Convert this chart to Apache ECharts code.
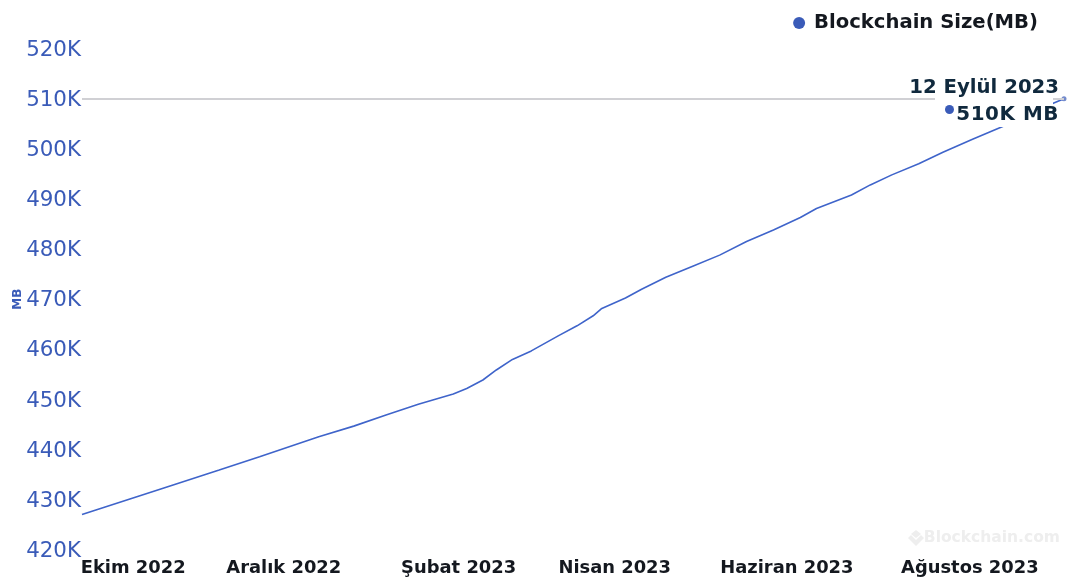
<!DOCTYPE html>
<html>
<head>
<meta charset="utf-8">
<style>html,body{margin:0;padding:0;background:#fff}#chart{width:1068px;height:581px}</style>
<script src="https://cdn.jsdelivr.net/npm/echarts@6/dist/echarts.min.js"></script>
</head>
<body>
<div id="chart"></div>
<script>
// Blockchain size over one year, in megabytes
const dates = ['2022-09-12','2022-10-11','2022-11-02','2022-11-17','2022-12-09','2022-12-22','2023-01-03','2023-01-15','2023-01-28','2023-02-02','2023-02-08','2023-02-13','2023-02-19','2023-02-26','2023-03-08','2023-03-15','2023-03-21','2023-03-24','2023-04-02','2023-04-08','2023-04-17','2023-04-27','2023-05-07','2023-05-17','2023-05-27','2023-06-06','2023-06-12','2023-06-25','2023-07-02','2023-07-10','2023-07-20','2023-07-29','2023-08-09','2023-08-20','2023-09-08','2023-09-12'];
const sizeMB = [427100,432100,435950,438600,442600,444700,446900,449050,451100,452200,453900,455900,458000,459700,462700,464700,466700,468100,470250,472000,474400,476600,478800,481500,483800,486300,488100,490800,492800,494800,497000,499300,501900,504400,509100,510000];
const tickDates = ['2022-10-01','2022-11-26','2023-01-30','2023-03-29','2023-06-01','2023-08-08'];
const tickLabels = ['Ekim 2022','Aralık 2022','Şubat 2023','Nisan 2023','Haziran 2023','Ağustos 2023'];
const seriesName = 'Blockchain Size(MB)';
const tipDate = '12 Eylül 2023';
const tipValue = '510K MB';

const FONT = '"DejaVu Sans", sans-serif';
const BLUE = '#3a5bb8';
const toTime = d => new Date(d + 'T00:00:00Z').getTime();
const lastIndex = dates.length - 1;
const crosshair = { color: '#d0d0d4', width: 2, type: 'solid' };

const chart = echarts.init(document.getElementById('chart'), null, { renderer: 'canvas' });
chart.setOption({
  animation: false,
  backgroundColor: '#fff',
  textStyle: { fontFamily: FONT },
  grid: { left: 82, right: 4, top: 48.5, bottom: 31, containLabel: false, outerBoundsMode: 'none' },
  legend: {
    show: true, top: 8, right: 25, icon: 'circle', itemWidth: 20, itemHeight: 12, itemGap: 8,
    selectedMode: false,
    textStyle: { fontFamily: FONT, fontSize: 19.6, fontWeight: 'bold', color: '#14181f' }
  },
  xAxis: {
    type: 'value',
    min: toTime(dates[0]),
    max: toTime(dates[lastIndex]),
    axisLine: { show: false },
    axisTick: { show: false },
    splitLine: { show: false },
    axisPointer: { show: true, status: 'show', value: toTime(dates[lastIndex]), snap: false, label: { show: false }, lineStyle: crosshair },
    axisLabel: {
      customValues: tickDates.map(toTime),
      margin: 9,
      hideOverlap: false,
      fontFamily: FONT, fontSize: 17.9, fontWeight: 'bold', color: '#14181f',
      formatter: v => tickLabels[tickDates.map(toTime).indexOf(v)] || ''
    }
  },
  yAxis: {
    type: 'value',
    min: 420000,
    max: 520000,
    interval: 10000,
    name: 'MB',
    nameLocation: 'middle',
    nameGap: 58,
    nameMoveOverlap: false,
    nameRotate: 90,
    nameTextStyle: { fontFamily: FONT, fontSize: 12, fontWeight: 'bold', color: BLUE },
    axisLine: { show: false },
    axisTick: { show: false },
    splitLine: { show: false },
    axisPointer: { show: true, status: 'show', value: sizeMB[lastIndex], snap: false, label: { show: false }, lineStyle: crosshair },
    axisLabel: {
      margin: 1,
      verticalAlign: 'top',
      lineHeight: 3,
      fontFamily: FONT, fontSize: 21.4, color: BLUE,
      formatter: v => (v / 1000) + 'K'
    }
  },
  tooltip: {
    show: true,
    trigger: 'axis',
    alwaysShowContent: true,
    transitionDuration: 0,
    backgroundColor: 'transparent',
    borderWidth: 0,
    padding: 0,
    extraCssText: 'box-shadow:none;',
    axisPointer: { type: 'none' },
    position: () => [905, 75],
    formatter: () =>
      '<div style="position:relative;width:154px;height:52px;font:bold 19.7px ' + "'DejaVu Sans'" + ';color:#10293d;line-height:24px">' +
      '<div style="position:absolute;left:30px;top:23px;width:118px;height:29px;background:#fff"></div>' +
      '<div style="position:absolute;right:0;top:0;white-space:nowrap">' + tipDate + '</div>' +
      '<div style="position:absolute;right:0;top:27px;white-space:nowrap;font-size:19.9px;letter-spacing:.55px">' + tipValue + '</div>' +
      '<div style="position:absolute;left:40px;top:30px;width:9px;height:9px;border-radius:50%;background:' + BLUE + '"></div>' +
      '</div>'
  },
  series: [{
    name: seriesName,
    type: 'line',
    symbol: 'none',
    smooth: false,
    itemStyle: { color: BLUE },
    lineStyle: { color: BLUE, width: 1.6 },
    data: dates.map((d, i) => [toTime(d), sizeMB[i]]),
    markPoint: {
      silent: true,
      symbol: 'circle',
      symbolSize: 5,
      itemStyle: { color: BLUE, opacity: 0.7, borderWidth: 0 },
      label: { show: false },
      data: [{ coord: [toTime(dates[lastIndex]), sizeMB[lastIndex]] }]
    }
  }],
  graphic: [
    {
      type: 'text', right: 8, top: 530, z: 0,
      style: { text: 'Blockchain.com', font: 'bold 15.5px "DejaVu Sans"', fill: '#eeeeee' }
    },
    {
      type: 'polygon', z: 0,
      shape: { points: [[916, 530], [921, 534], [916, 538], [911, 534]] },
      style: { fill: '#eeeeee' }
    },
    {
      type: 'polygon', z: 0,
      shape: { points: [[908, 538], [911, 535], [916, 540], [921, 535], [924, 538], [916, 546]] },
      style: { fill: '#eeeeee' }
    }
  ]
});
chart.dispatchAction({ type: 'showTip', seriesIndex: 0, dataIndex: lastIndex });
</script>
</body>
</html>
